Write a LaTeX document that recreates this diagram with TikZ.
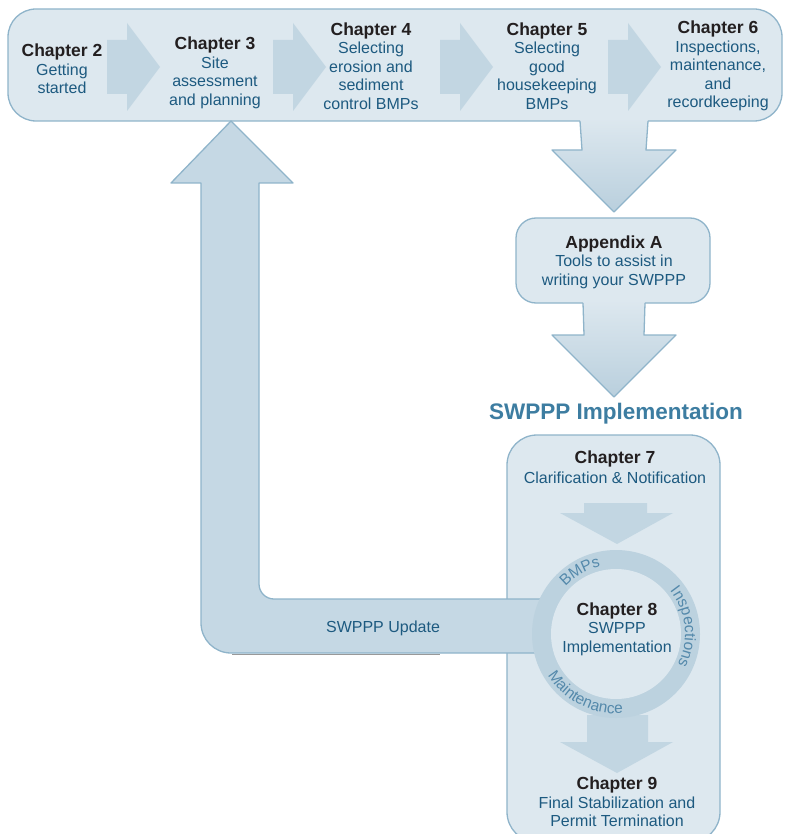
\documentclass[tikz,border=0pt]{standalone}
\usepackage{fontspec}
\setmainfont{Liberation Sans}
\usetikzlibrary{decorations.text}
\definecolor{bannerfill}{HTML}{DDE8EF}
\definecolor{edge}{HTML}{8FB4CA}
\definecolor{chevfill}{HTML}{C2D6E2}
\definecolor{upfill}{HTML}{C5D8E4}
\definecolor{ringfill}{HTML}{BCD2DF}
\definecolor{arrowbot}{HTML}{B9CFDD}
\definecolor{txtblue}{HTML}{1D5A80}
\definecolor{headc}{HTML}{231F20}
\definecolor{titlec}{HTML}{3D7DA1}
\definecolor{ringtxt}{HTML}{5489AB}
\newcommand\hd[1]{{\color{headc}\fontsize{17.5}{18}\selectfont\bfseries #1}}
\newcommand\ringfont{\fontsize{15.5}{15.5}\selectfont\color{ringtxt}}
\tikzset{
  panel/.style={draw=edge, fill=bannerfill, line width=1.3pt},
  chap/.style={align=center, text=txtblue, font=\fontsize{16}{18.5}\selectfont, inner sep=0pt},
  bigarrow/.style={draw=edge, line width=1.3pt, line join=round},
  chev/.pic={\fill[chevfill] (-20,27) -- (0,27) -- (0,44) -- (33,0) -- (0,-44) -- (0,-27) -- (-20,-27) -- cycle;},
  ringlabel/.style={decorate, decoration={text along path, text align=center}}
}
\begin{document}
\begin{tikzpicture}[x=1pt,y=1pt]
\useasboundingbox (0,0) rectangle (784,-834);
% top banner
\path[panel, rounded corners=28pt] (8,-9) rectangle (782,-121);
% chevrons
\pic at (127,-67) {chev};
\pic at (293,-67) {chev};
\pic at (460,-67) {chev};
\pic at (628,-67) {chev};
% chapter texts
\node[chap] (c2) at (62,-69) {\hd{Chapter 2}\\Getting\\started};
\node[chap] (c3) at (215,-73) {\hd{Chapter 3}\\Site\\assessment\\and planning};
\node[chap] (c4) at (371,-66) {\hd{Chapter 4}\\Selecting\\erosion and\\sediment\\control BMPs};
\node[chap] (c5) at (547,-66) {\hd{Chapter 5}\\Selecting\\good\\housekeeping\\BMPs};
\node[chap] (c6) at (718,-66) {\hd{Chapter 6}\\Inspections,\\maintenance,\\and\\recordkeeping};
% down arrow 1
\shade[top color=bannerfill, bottom color=arrowbot] (580,-118) -- (582,-150) -- (552,-150) -- (614,-212) -- (676,-150) -- (646,-150) -- (648,-118) -- cycle;
\draw[bigarrow] (580,-121) -- (582,-150) -- (552,-150) -- (614,-212) -- (676,-150) -- (646,-150) -- (648,-121);
% appendix box
\path[panel, rounded corners=20pt] (516,-218) rectangle (710,-303);
\node[chap] (appA) at (614,-262) {\hd{Appendix A}\\Tools to assist in\\writing your SWPPP};
% down arrow 2
\shade[top color=bannerfill, bottom color=arrowbot] (583,-300) -- (584,-335) -- (552,-335) -- (614,-397) -- (676,-335) -- (644,-335) -- (645,-300) -- cycle;
\draw[bigarrow] (583,-303) -- (584,-335) -- (552,-335) -- (614,-397) -- (676,-335) -- (644,-335) -- (645,-303);
% title
\node[text=titlec, font=\fontsize{22.5}{24}\selectfont\bfseries, inner sep=0pt] (title) at (616,-414) {SWPPP Implementation};
% bottom box
\path[panel, rounded corners=30pt] (507,-435) rectangle (720,-842);
% up arrow with update bar
\draw[bigarrow, fill=upfill] (231,-121) -- (293,-183) -- (259,-183) -- (259,-584)
  arc[start angle=180, end angle=270, radius=15] -- (560,-599) -- (560,-653) -- (231,-653)
  arc[start angle=270, end angle=180, radius=30] -- (201,-183) -- (171,-183) -- cycle;
\draw[gray!80, line width=1pt] (232,-654.5) -- (440,-654.5);
\node[chap] (upd) at (383,-628) {SWPPP Update};
% chapter 7
\node[chap] (c7) at (615,-467) {\hd{Chapter 7}\\[2pt]Clarification \& Notification};
% inner arrows
\fill[chevfill] (584,-503) -- (647,-503) -- (647,-513) -- (673,-513) -- (617,-544) -- (560,-513) -- (584,-513) -- cycle;
\fill[chevfill] (587,-715) -- (648,-715) -- (648,-742) -- (673,-742) -- (617,-773) -- (560,-742) -- (587,-742) -- cycle;
% ring
\fill[ringfill] (616,-634) circle[radius=84];
\fill[bannerfill] (616,-634) circle[radius=65];
\path[ringlabel, decoration={text={|\ringfont|BMPs}}] (616,-634) ++(150:69) arc[start angle=150, end angle=90, radius=69];
\path[ringlabel, decoration={text={|\ringfont|Inspections}}] (616,-634) ++(60:69) arc[start angle=60, end angle=-48, radius=69];
\path[ringlabel, decoration={text={|\ringfont|Maintenance}}] (616,-634) ++(190:79.5) arc[start angle=190, end angle=296, radius=79.5];
\node[chap] (c8) at (617,-629) {\hd{Chapter 8}\\SWPPP\\Implementation};
% chapter 9
\node[chap] (c9) at (617,-802) {\hd{Chapter 9}\\Final Stabilization and\\Permit Termination};
\end{tikzpicture}
\end{document}
